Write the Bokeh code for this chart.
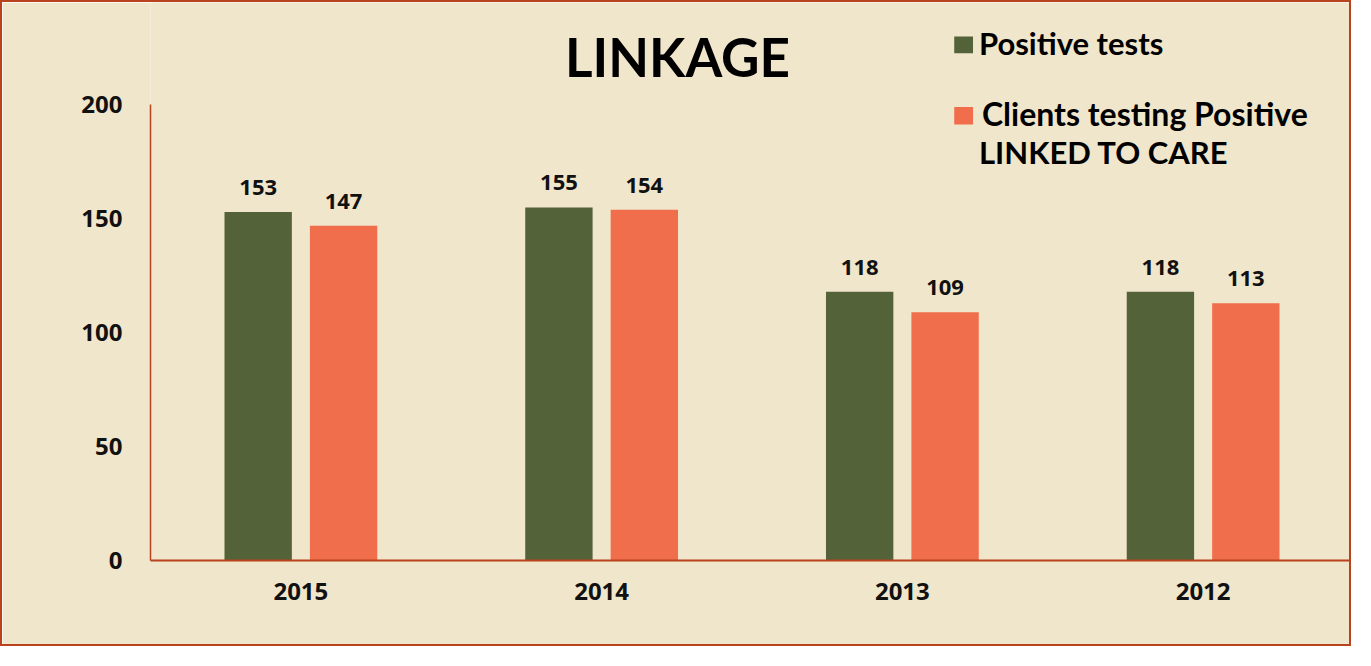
from bokeh.plotting import figure
from bokeh.models import ColumnDataSource, LabelSet, Label, BoxAnnotation, FactorRange, Range1d
from bokeh.transform import dodge
from bokeh.embed import file_html
from bokeh.resources import INLINE
from bokeh.core.properties import value

# ---- data ----
years = ["2015", "2014", "2013", "2012"]
positive_tests = [153, 155, 118, 118]
linked_to_care = [147, 154, 109, 113]
y_ticks = [0, 50, 100, 150, 200]
title_text = "LINKAGE"
legend_1 = "Positive tests"
legend_2a = " Clients testing Positive"
legend_2b = "LINKED TO CARE"

# ---- style ----
GREEN = "#546239"
ORANGE = "#F06E4C"
BG = "#F0E6CB"
RED = "#B8431E"

W, H = 1351, 646
FL, FR, FT, FB_ = 148, 0, 0, 88
FRAME_BOTTOM = H - FB_
SCX, SCY = 1355 / 1371, 650 / 666

src = ColumnDataSource(dict(years=years, pos=positive_tests, linked=linked_to_care,
                            pos_lbl=[str(v) for v in positive_tests],
                            linked_lbl=[str(v) for v in linked_to_care]))

p = figure(x_range=FactorRange(*years, range_padding=0), y_range=Range1d(0, 245),
           width=W, height=H, output_backend="svg", toolbar_location=None,
           min_border_left=FL, min_border_right=FR, min_border_top=FT, min_border_bottom=FB_)
p.styles = {"border": f"2px solid {RED}"}

p.background_fill_color = BG
p.border_fill_color = BG
p.outline_line_color = None
p.xgrid.grid_line_color = None
p.ygrid.grid_line_color = None

p.vbar(x=dodge("years", -0.142, range=p.x_range), top="pos", width=0.224, source=src,
       fill_color=GREEN, line_color=None)
p.vbar(x=dodge("years", 0.142, range=p.x_range), top="linked", width=0.224, source=src,
       fill_color=ORANGE, line_color=None)

lbl_font = value("Open Sans")
for xo, col, lab in [(-0.142, "pos", "pos_lbl"), (0.142, "linked", "linked_lbl")]:
    p.add_layout(LabelSet(x=dodge("years", xo, range=p.x_range), y=col, text=lab, source=src,
                          text_align="center", text_baseline="alphabetic", y_offset=17,
                          text_font=lbl_font, text_font_style="bold", text_font_size="22px",
                          text_color="#111111"))

# axes
p.yaxis.ticker = y_ticks
p.yaxis.bounds = (0, 200)
for ax in (p.xaxis[0], p.yaxis[0]):
    ax.major_tick_line_color = None
    ax.minor_tick_line_color = None
    ax.major_label_text_font = "Open Sans"
    ax.major_label_text_font_style = "bold"
    ax.major_label_text_font_size = "24px"
    ax.major_label_text_color = "#111111"
    ax.axis_line_color = RED
p.yaxis.axis_line_width = 1.5
p.xaxis.axis_line_width = 2
p.yaxis.major_label_standoff = 22
p.xaxis.major_label_standoff = 16


# reference pixel -> frame-relative screen units
def sx(px):
    return px * SCX - 2 - FL


def sy(py, fs=0):
    return FRAME_BOTTOM - (py * SCY - 2) + 0.37 * fs


p.add_layout(Label(x=sx(685), y=sy(77, 53), x_units="screen", y_units="screen", text=title_text,
                   text_align="center", text_baseline="alphabetic", text_font="Lato",
                   text_font_style="bold", text_font_size="53px", text_color="#000000"))

for t, x0, yb, fs in [(legend_1, 990, 55, 31), (legend_2a, 993, 128, 32), (legend_2b, 990, 167, 31)]:
    p.add_layout(Label(x=sx(x0), y=sy(yb, fs), x_units="screen", y_units="screen", text=t,
                       text_align="left", text_baseline="alphabetic", text_font="Lato",
                       text_font_style="bold", text_font_size=f"{fs}px", text_color="#000000"))

for col, top, bot in [(GREEN, 37, 54), (ORANGE, 109, 127)]:
    p.add_layout(BoxAnnotation(left=sx(965), right=sx(984), top=sy(top), bottom=sy(bot),
                               left_units="screen", right_units="screen",
                               top_units="screen", bottom_units="screen",
                               fill_color=col, fill_alpha=1.0, line_color=None))

open("out.html", "w").write(file_html(p, INLINE))
